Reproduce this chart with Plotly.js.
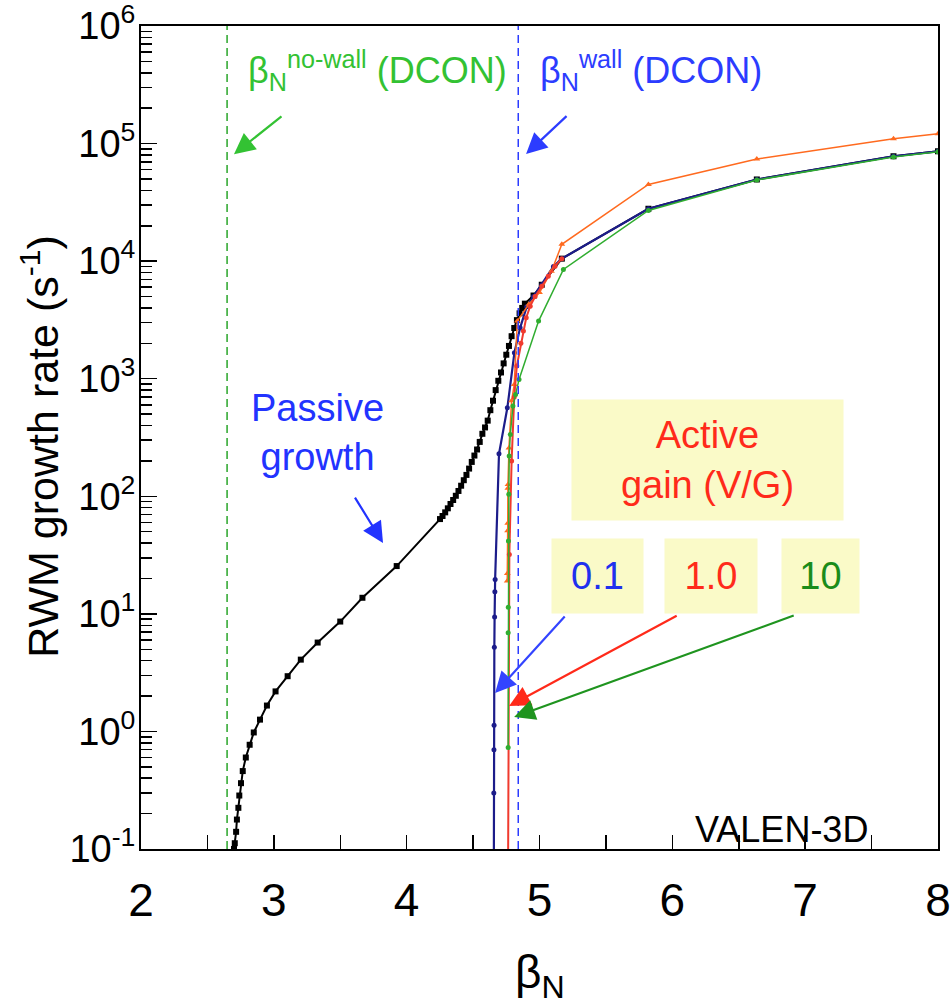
<!DOCTYPE html>
<html>
<head>
<meta charset="utf-8">
<script src="https://cdn.plot.ly/plotly-3.0.1.min.js"></script>
<style>html,body{margin:0;padding:0;background:#fff;}</style>
</head>
<body>
<div id="chart" style="width:952px;height:1004px;"></div>
<script>
// ---------- DATA ----------
// Passive growth (no feedback) – black squares
const passiveBeta = [2.700, 2.706, 2.716, 2.722, 2.733, 2.740, 2.753, 2.766, 2.789, 2.818, 2.849, 2.896, 2.948, 3.013, 3.104, 3.203, 3.33, 3.50, 3.667, 3.925,
  4.251, 4.27, 4.29, 4.31, 4.33, 4.35, 4.37, 4.39, 4.41, 4.43, 4.45, 4.47, 4.49, 4.51, 4.53, 4.55, 4.57, 4.59, 4.61, 4.63, 4.65, 4.67, 4.69, 4.71, 4.73, 4.75, 4.77, 4.79, 4.81, 4.83, 4.85, 4.87, 4.89,
  4.955, 5.017, 5.168, 5.82, 6.636, 7.665, 8.0];
const passiveRate = [0.10, 0.112, 0.14, 0.178, 0.224, 0.285, 0.363, 0.46, 0.60, 0.77, 0.98, 1.26, 1.66, 2.19, 2.95, 4.08, 5.7, 8.6, 13.7, 25.5,
  64, 68, 73, 79, 86, 93, 101, 111, 123, 137, 152, 172, 196, 222, 250, 290, 340, 385, 440, 540, 650, 800, 960, 1130, 1350, 1600, 1900, 2300, 2700, 3150, 3600, 4000, 4350,
  5100, 6300, 10500, 27900, 49500, 78000, 86000];

// Active gain 0.1 – navy
const gain01Beta = [4.656, 4.656, 4.657, 4.658, 4.660, 4.662, 4.664, 4.666, 4.695, 4.758, 4.811, 4.854, 4.904, 4.955, 5.017, 5.105, 5.168, 5.82, 6.636, 7.665, 8.0];
const gain01Rate = [0.05, 0.30, 0.70, 1.13, 5.2, 9.4, 15.4, 19.6, 230, 566, 1660, 2710, 4100, 5000, 6300, 9000, 10500, 27900, 49500, 78000, 86000];

// Additional active case – orange triangles
const orangeBeta = [4.757, 4.758, 4.760, 4.761, 4.762, 4.763, 4.770, 4.790, 4.810, 4.833, 4.92, 5.00, 5.09, 5.168, 5.82, 6.636, 7.665, 8.0];
const orangeRate = [19, 22, 51, 59, 117, 126, 257, 650, 895, 3100, 4300, 5400, 8200, 13900, 44900, 74000, 110000, 121000];

// Active gain 1.0 – red
const gain1Beta = [4.763, 4.773, 4.79, 4.81, 4.829, 4.86, 4.879, 4.90, 4.93, 4.967, 5.017, 5.066, 5.117, 5.168];
const gain1Rate = [0.05, 32, 200, 700, 1280, 2000, 2540, 3300, 4140, 5010, 6120, 7450, 9060, 10500];

// Active gain 10 – green
const gain10Beta = [4.764, 4.764, 4.765, 4.766, 4.769, 4.772, 4.78, 4.80, 4.82, 4.846, 4.993, 5.18, 5.82, 6.636, 7.665, 8.0];
const gain10Rate = [0.73, 6.9, 11.4, 41.6, 104, 220, 336, 585, 735, 986, 3090, 8510, 27000, 49000, 77000, 85000];

// DCON stability limits
const betaNoWall = 2.648;
const betaWall = 4.84;

// Axis ticks
const xTickVals = [2, 3, 4, 5, 6, 7, 8];
const yTickVals = [0.1, 1, 10, 100, 1000, 10000, 100000, 1000000];
const yTickText = ['10<sup>-1</sup>', '10<sup>0</sup>', '10<sup>1</sup>', '10<sup>2</sup>', '10<sup>3</sup>', '10<sup>4</sup>', '10<sup>5</sup>', '10<sup>6</sup>'];
const yMinorTicks = [];
for (let e = -1; e < 6; e++) { for (let m = 2; m <= 9; m++) yMinorTicks.push(m * Math.pow(10, e)); }

// ---------- PLOT ----------
const FONT = 'Liberation Sans, Arial, Helvetica, sans-serif';
const NAVY = '#1c1c8a', RED = '#f03a2e', ORANGE = '#ff6a1f', GREEN = '#30ad30';

const traces = [
  {x: passiveBeta, y: passiveRate, mode: 'lines+markers', line: {color: '#000', width: 2},
   marker: {symbol: 'square', size: 6, color: '#000'}},
  {x: gain01Beta, y: gain01Rate, mode: 'lines+markers', line: {color: NAVY, width: 2.2},
   marker: {symbol: 'circle', size: 5, color: NAVY}},
  {x: orangeBeta, y: orangeRate, mode: 'lines+markers', line: {color: ORANGE, width: 1.5},
   marker: {symbol: 'triangle-up', size: 6, color: ORANGE}},
  {x: gain1Beta, y: gain1Rate, mode: 'lines+markers', line: {color: RED, width: 2},
   marker: {symbol: 'circle', size: 5, color: RED}},
  {x: gain10Beta, y: gain10Rate, mode: 'lines+markers', line: {color: GREEN, width: 1.5},
   marker: {symbol: 'circle', size: 5, color: GREEN}}
];

function arrow(color, x, y, ax, ay) {
  return {x: x, y: y, ax: ax, ay: ay, xref: 'x', yref: 'y', axref: 'x', ayref: 'y',
    showarrow: true, arrowhead: 2, arrowsize: 1.9, arrowwidth: 2.2, arrowcolor: color, text: ''};
}
function label(text, x, y, size, color, extra) {
  return Object.assign({text: text, x: x, y: y, xref: 'paper', yref: 'paper', showarrow: false,
    font: {family: FONT, size: size, color: color}}, extra || {});
}
const BOX = 'rgb(250,250,200)';

const annotations = [
  label('β<sub>N</sub><sup>no-wall</sup> (DCON)', 0.1317, 0.946, 36, '#33c233', {xanchor: 'left', yanchor: 'middle'}),
  label('β<sub>N</sub><sup>wall</sup> (DCON)', 0.4975, 0.946, 36, '#2c3cff', {xanchor: 'left', yanchor: 'middle'}),
  arrow('#33c233', 2.700, 4.910, 3.069, 5.241),
  arrow('#2c3cff', 4.899, 4.911, 5.215, 5.245),
  label('Passive<br>growth', 0.222, 0.5055, 38, '#2233ff', {xanchor: 'center', yanchor: 'middle'}),
  arrow('#2233ff', 3.822, 1.602, 3.604, 2.002),
  label('Active<br>gain (V/G)', 0.7108, 0.4727, 38, '#ff2a1a', {xanchor: 'center', yanchor: 'middle', bgcolor: BOX, width: 271, height: 120, borderpad: 0}),
  label('0.1', 0.5728, 0.3317, 38, '#2030ee', {xanchor: 'center', yanchor: 'middle', bgcolor: BOX, width: 91, height: 74, borderpad: 0}),
  label('1.0', 0.7152, 0.3317, 38, '#ff2a1a', {xanchor: 'center', yanchor: 'middle', bgcolor: BOX, width: 92, height: 74, borderpad: 0}),
  label('10', 0.8526, 0.3317, 38, '#1a8c1a', {xanchor: 'center', yanchor: 'middle', bgcolor: BOX, width: 77, height: 74, borderpad: 0}),
  arrow('#3344ff', 4.666, 0.327, 5.200, 0.990),
  arrow('#ff2a1a', 4.771, 0.216, 6.044, 0.990),
  arrow('#1f941f', 4.809, 0.122, 6.925, 0.990),
  label('VALEN-3D', 0.8036, 0.0243, 36, '#000', {xanchor: 'center', yanchor: 'middle'}),
  label('RWM growth rate (s<sup>-1</sup>)', -0.127, 0.4897, 43, '#000', {xanchor: 'center', yanchor: 'middle', textangle: -90}),
  label('β<sub>N</sub>', 0.5006, -0.154, 46, '#000', {xanchor: 'center', yanchor: 'middle'})
];

const shapes = [
  {type: 'line', xref: 'x', yref: 'paper', x0: betaNoWall, x1: betaNoWall, y0: 0, y1: 1,
   line: {color: '#2aa52a', width: 1.5, dash: '8px,5px'}},
  {type: 'line', xref: 'x', yref: 'paper', x0: betaWall, x1: betaWall, y0: 0, y1: 1,
   line: {color: '#2c3cff', width: 1.5, dash: '8px,5px'}}
];

const layout = {
  width: 952, height: 1004,
  margin: {l: 141, r: 14, t: 26, b: 155},
  paper_bgcolor: '#fff', plot_bgcolor: '#fff',
  showlegend: false,
  font: {family: FONT, color: '#000'},
  xaxis: {
    range: [2, 8], tickvals: xTickVals, ticks: 'inside', ticklen: 14, tickwidth: 1.5, tickcolor: '#000',
    tickfont: {family: FONT, size: 46, color: '#000'}, ticklabelstandoff: 10, ticklabeloverflow: 'allow',
    showline: true, linewidth: 2, linecolor: '#000', mirror: true, showgrid: false, zeroline: false,
    minor: {dtick: 0.5, ticks: 'inside', ticklen: 14, tickwidth: 1.5, tickcolor: '#000', showgrid: false}
  },
  yaxis: {
    type: 'log', range: [-1.00001, 6.00001], tickvals: yTickVals, ticktext: yTickText, ticks: 'inside', ticklen: 16,
    tickwidth: 1.5, tickcolor: '#000', tickfont: {family: FONT, size: 38, color: '#000'}, ticklabelstandoff: -4,
    ticklabeloverflow: 'allow',
    showline: true, linewidth: 2, linecolor: '#000', mirror: true, showgrid: false, zeroline: false,
    minor: {tickvals: yMinorTicks, ticks: 'inside', ticklen: 11, tickwidth: 1.5, tickcolor: '#000', showgrid: false}
  },
  annotations: annotations,
  shapes: shapes
};

Plotly.newPlot('chart', traces, layout, {displayModeBar: false, staticPlot: true});
</script>
</body>
</html>
